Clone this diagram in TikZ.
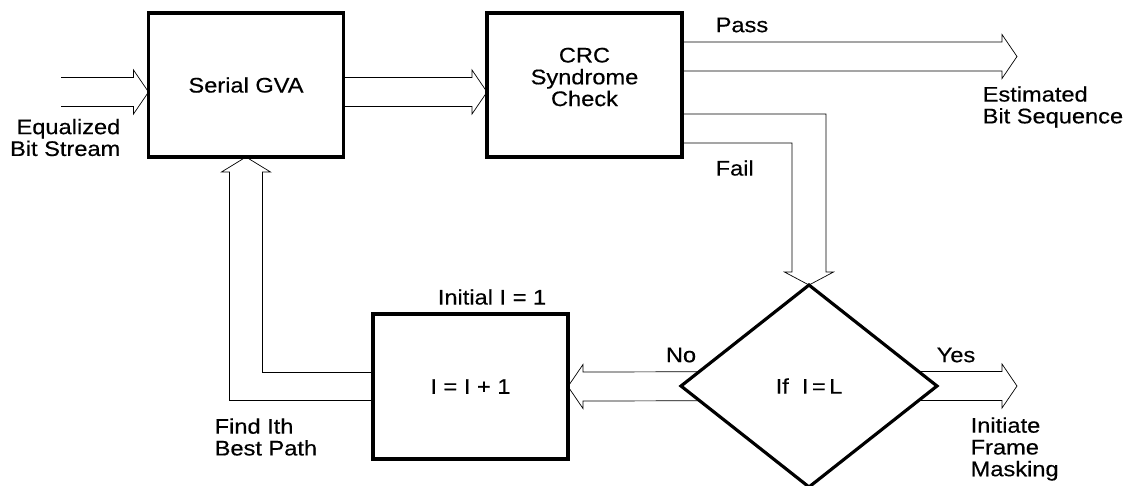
\documentclass[tikz,border=0pt]{standalone}
\usepackage{fontspec}
\setmainfont{Liberation Sans}[FakeStretch=1.12, FakeBold=0.4]
\usepackage{tikz}
\usetikzlibrary{shapes.geometric,calc,backgrounds}

% hollow block arrow: #1 start, #2 tip, #3 = 1 (right) or -1 (left)
\newcommand{\blockarrow}[3]{%
  \draw ($(#1)+(0,-14.5)$) -- ($(#2)+({-15*(#3)},-14.5)$) -- ($(#2)+({-15*(#3)},-22)$) -- (#2)
    -- ($(#2)+({-15*(#3)},22)$) -- ($(#2)+({-15*(#3)},14.5)$) -- ($(#1)+(0,14.5)$);}

\begin{document}
\begin{tikzpicture}[x=0.02cm, y=-0.02cm, line width=0.8pt,
    font=\fontsize{12}{12.4}\selectfont,
    box/.style={draw, line width=1.8pt, fill=white, outer sep=0pt, minimum width=3.9cm},
    lbl/.style={inner sep=0pt}]
            \useasboundingbox (0,0) rectangle (1123,485);

            % Blocks
            \node[box, minimum height=2.88cm] (gva) at (246,85) {Serial GVA};
            \node[box, minimum height=2.88cm,
                  label={[align=center, yshift=0.16cm]center:CRC\\Syndrome\\Check}] (crc) at (584.5,85) {};
            \node[box, minimum height=2.9cm] (inc) at (470.5,386.5) {I = I + 1};
            \node[draw, diamond, line width=1.8pt, fill=white, outer sep=0pt, inner sep=0pt,
                  minimum width=5.12cm, minimum height=4.04cm] (dia) at (809,386) {If~~I\,=\,L};

            % Free ends
            \coordinate (in) at (61,92);
            \coordinate (gvain) at ($(gva.west)+(0,7)$);
            \coordinate (gvaout) at ($(gva.east)+(0,7)$);
            \coordinate (crcin) at ($(crc.west)+(0,7)$);
            \coordinate (passout) at ($(crc.east)+(0,-28.5)$);
            \coordinate (est) at (1017,56.5);
            \coordinate (mask) at (1017,386);

            % Arrows
            \begin{scope}[on background layer]
                \blockarrow{in}{gvain}{1}
                \blockarrow{gvaout}{crcin}{1}
                \blockarrow{passout}{est}{1}
                \blockarrow{dia.center}{inc.east}{-1}
                \blockarrow{dia.center}{mask}{1}
                \draw ($(crc.east)+(0,29)$) -| ($(dia.north)+(17,-13)$) -- ($(dia.north)+(24.5,-13)$)
                    -- (dia.north) -- ($(dia.north)+(-24.5,-13)$) -- ($(dia.north)+(-17,-13)$)
                    |- ($(crc.east)+(0,58)$);
                \draw ($(inc.west)+(0,-14)$) -| ($(gva.south)+(16.5,15)$) -- ($(gva.south)+(24.5,15)$)
                    -- (gva.south) -- ($(gva.south)+(-24.5,15)$) -- ($(gva.south)+(-16.5,15)$)
                    |- ($(inc.west)+(0,14)$);
            \end{scope}

            % Labels
            \node[lbl, anchor=east, align=right] (eqlbl) at (121,137.5) {Equalized\\Bit Stream};
            \node[lbl, anchor=west] (passlbl) at (715,25) {Pass};
            \node[lbl, anchor=west] (faillbl) at (715,168) {Fail};
            \node[lbl, anchor=west, align=left] (estlbl) at (982,107) {Estimated\\Bit Sequence};
            \node[lbl] (initlbl) at (492,297) {Initial I = 1};
            \node[lbl, anchor=west, align=left] (findlbl) at (214,437) {Find Ith\\Best Path};
            \node[lbl] (nolbl) at (681,355) {No};
            \node[lbl] (yeslbl) at (956,355) {Yes};
            \node[lbl, anchor=west, align=left] (masklbl) at (970,449) {Initiate\\Frame\\Masking};
\end{tikzpicture}
\end{document}
